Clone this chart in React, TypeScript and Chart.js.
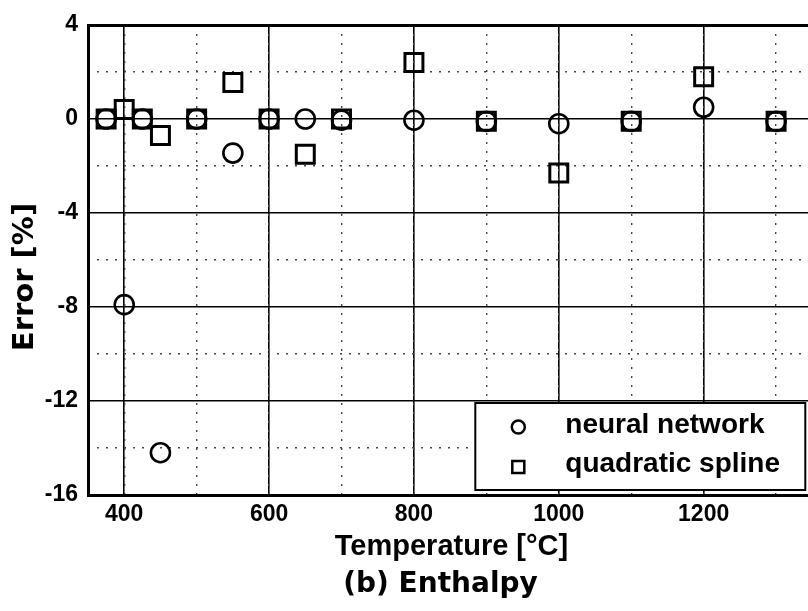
import React, { useEffect, useRef } from 'react';
import { Chart, registerables } from 'chart.js';

Chart.register(...registerables);

// ---- data ----
const temperatures = [375, 400, 425, 450, 500, 550, 600, 650, 700, 800, 900, 1000, 1100, 1200, 1300];
const neuralNetworkError = [0, -7.9, 0, -14.2, 0, -1.45, 0, 0, -0.05, -0.05, -0.1, -0.2, -0.1, 0.5, -0.1];
const quadraticSplineError = [0, 0.4, 0, -0.7, 0, 1.55, 0, -1.5, 0, 2.4, -0.1, -2.3, -0.1, 1.8, -0.1];

const seriesLabels = ['neural network', 'quadratic spline'];

const xMajorTicks = [400, 600, 800, 1000, 1200];
const xMinorTicks = [400, 500, 600, 700, 800, 900, 1000, 1100, 1200, 1300];
const yMajorTicks = [-16, -12, -8, -4, 0, 4];
const yMinorTicks = [-14, -10, -6, -2, 2];

const xTitle = 'Temperature [°C]';
const yTitle = 'Error [%]';
const subTitle = '(b) Enthalpy';

const FONT = "'Liberation Sans', Arial, Helvetica, sans-serif";
const WIDE_FONT = "'DejaVu Sans', 'Liberation Sans', Arial, sans-serif";

const titlesPlugin = {
  id: 'titlesPlugin',
  afterDraw(chart: any) {
    const { ctx, chartArea } = chart;
    ctx.save();
    ctx.fillStyle = '#000';
    ctx.textAlign = 'center';
    ctx.textBaseline = 'alphabetic';
    ctx.font = `bold 29px ${FONT}`;
    ctx.fillText(xTitle, chartArea.left + 363.5, chartArea.bottom + 60);
    ctx.font = `bold 28px ${WIDE_FONT}`;
    ctx.fillText(subTitle, chartArea.left + 352.5, chartArea.bottom + 97);
    ctx.translate(33, 277);
    ctx.rotate(-Math.PI / 2);
    ctx.font = `bold 29px ${WIDE_FONT}`;
    ctx.fillText(yTitle, 0, 0);
    ctx.restore();
  },
};

const legendBoxPlugin = {
  id: 'legendBoxPlugin',
  afterDatasetsDraw(chart: any) {
    const { ctx, chartArea } = chart;
    const left = chartArea.right - 337;
    const top = chartArea.bottom - 92;
    const right = chartArea.right - 7;
    const bottom = chartArea.bottom - 5;
    ctx.save();
    ctx.fillStyle = '#fff';
    ctx.fillRect(left, top, right - left, bottom - top);
    ctx.strokeStyle = '#000';
    ctx.lineWidth = 2;
    ctx.strokeRect(left, top, right - left, bottom - top);
    const rows = [
      { cy: top + 24, base: top + 30 },
      { cy: top + 64, base: top + 69 },
    ];
    chart.data.datasets.forEach((ds: any, i: number) => {
      const cx = left + 43;
      const cy = rows[i].cy;
      ctx.lineWidth = 2.5;
      ctx.strokeStyle = '#000';
      ctx.beginPath();
      if (ds.pointStyle === 'rect') {
        ctx.rect(cx - 6, cy - 6, 12, 12);
      } else {
        ctx.arc(cx, cy, 6.5, 0, Math.PI * 2);
      }
      ctx.stroke();
      ctx.font = `bold 28px ${FONT}`;
      ctx.fillStyle = '#000';
      ctx.textAlign = 'left';
      ctx.textBaseline = 'alphabetic';
      ctx.fillText(ds.label, left + 90, rows[i].base);
    });
    ctx.restore();
  },
};

export default function App() {
  const canvasRef = useRef<HTMLCanvasElement | null>(null);

  useEffect(() => {
    if (!canvasRef.current) return;
    const tickFont = { family: FONT, size: 23, weight: 'bold' as const };
    const plainLabel = (v: any) => String(v);
    const chart = new Chart(canvasRef.current, {
      type: 'scatter',
      data: {
        datasets: [
          {
            label: seriesLabels[0],
            data: temperatures.map((t, i) => ({ x: t, y: neuralNetworkError[i] })),
            pointStyle: 'circle',
            pointRadius: 9.5,
            pointBorderWidth: 2.6,
            pointBorderColor: '#000',
            pointBackgroundColor: 'rgba(0,0,0,0)',
            showLine: false,
          },
          {
            label: seriesLabels[1],
            data: temperatures.map((t, i) => ({ x: t, y: quadraticSplineError[i] })),
            pointStyle: 'rect',
            pointRadius: 12.7,
            pointBorderWidth: 3,
            pointBorderColor: '#000',
            pointBackgroundColor: 'rgba(0,0,0,0)',
            showLine: false,
          },
        ],
      },
      options: {
        responsive: false,
        animation: false,
        devicePixelRatio: 1,
        layout: { padding: { left: 0, top: 25, right: 4, bottom: 0 } },
        plugins: {
          legend: { display: false },
          tooltip: { enabled: false },
          title: { display: false },
        },
        scales: {
          x: {
            type: 'linear',
            position: 'bottom',
            min: 350,
            max: 1350,
            afterBuildTicks: (s: any) => {
              s.ticks = xMajorTicks.map((v) => ({ value: v }));
            },
            afterFit: (s: any) => {
              s.height = 116;
            },
            ticks: { font: tickFont, color: '#000', padding: 6, maxRotation: 0, autoSkip: false, callback: plainLabel },
            grid: { color: '#000', lineWidth: 1.6, drawTicks: false },
            border: { color: '#000', width: 3 },
          },
          xMinor: {
            type: 'linear',
            position: 'bottom',
            min: 350,
            max: 1350,
            afterBuildTicks: (s: any) => {
              s.ticks = xMinorTicks.map((v) => ({ value: v }));
            },
            afterFit: (s: any) => {
              s.height = 0;
            },
            ticks: { display: false },
            grid: { color: '#444', lineWidth: 1.4, drawTicks: false },
            border: { display: false, dash: [2, 7] },
          },
          y: {
            type: 'linear',
            position: 'left',
            min: -16,
            max: 4,
            afterBuildTicks: (s: any) => {
              s.ticks = yMajorTicks.map((v) => ({ value: v }));
            },
            afterFit: (s: any) => {
              s.width = 88;
            },
            ticks: { font: tickFont, color: '#000', padding: 10, autoSkip: false, callback: plainLabel },
            grid: {
              color: '#000',
              lineWidth: (c: any) => (c.tick && c.tick.value === 4 ? 3 : 1.6),
              drawTicks: false,
            },
            border: { color: '#000', width: 3 },
          },
          yMinor: {
            type: 'linear',
            position: 'left',
            min: -16,
            max: 4,
            afterBuildTicks: (s: any) => {
              s.ticks = yMinorTicks.map((v) => ({ value: v }));
            },
            afterFit: (s: any) => {
              s.width = 0;
            },
            ticks: { display: false },
            grid: { color: '#444', lineWidth: 1.4, drawTicks: false },
            border: { display: false, dash: [2, 7] },
          },
        },
      } as any,
      plugins: [legendBoxPlugin, titlesPlugin],
    });
    return () => chart.destroy();
  }, []);

  return (
    <div
      style={{
        position: 'absolute',
        left: 0,
        top: 0,
        width: 808,
        height: 611,
        overflow: 'hidden',
        background: '#fff',
      }}
    >
      <canvas ref={canvasRef} width={828} height={611} style={{ display: 'block' }} />
    </div>
  );
}
